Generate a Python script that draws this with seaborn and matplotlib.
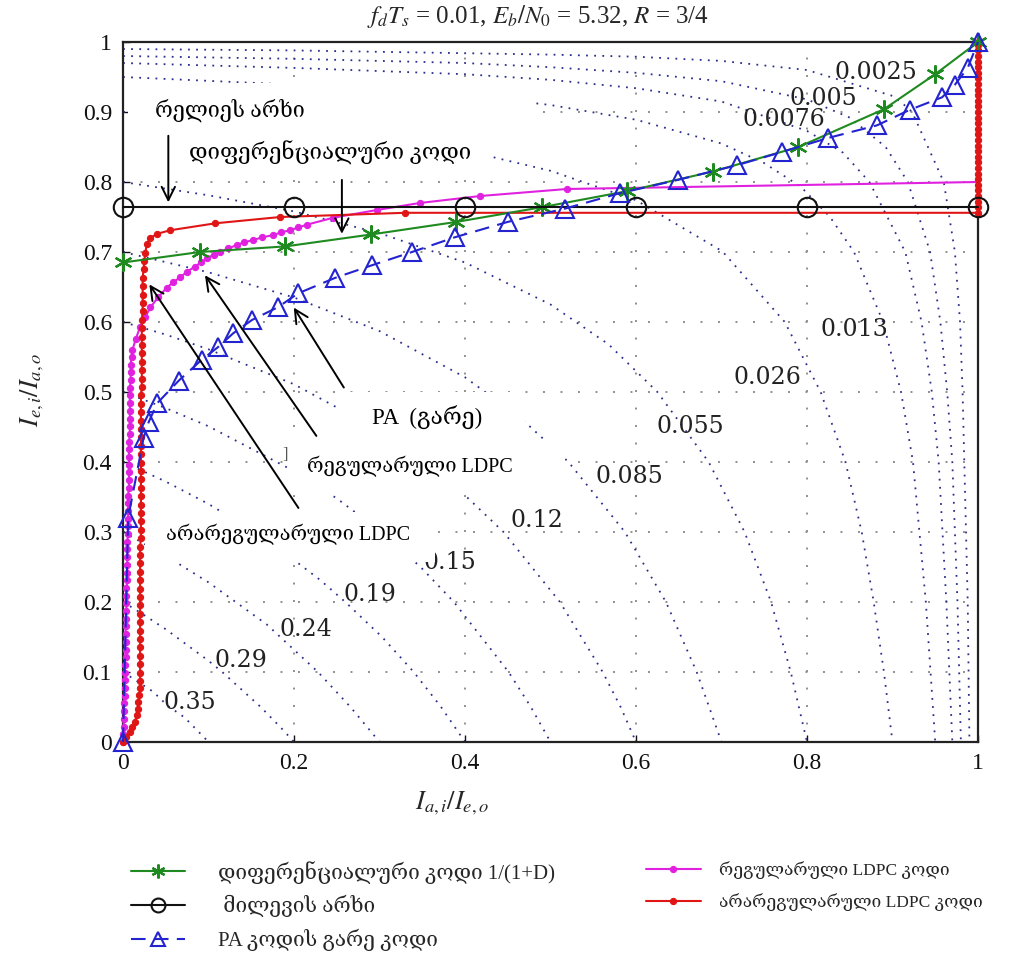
import numpy as np
import matplotlib
matplotlib.use("Agg")
import matplotlib.pyplot as plt
import seaborn as sns
from matplotlib.patches import Rectangle

# ---- data ----
# differential code 1/(1+D)
diff_x = [0.0, 0.09, 0.19, 0.29, 0.39, 0.49, 0.59, 0.69, 0.79, 0.89, 0.95, 1.0]
diff_y = [0.685, 0.70, 0.708, 0.725, 0.743, 0.764, 0.787, 0.815, 0.85, 0.904, 0.954, 1.0]

# fading (Rayleigh) channel
chan_x = [0.0, 0.2, 0.4, 0.6, 0.8, 1.0]
chan_y = [0.764, 0.764, 0.764, 0.764, 0.764, 0.764]

# PA outer code
pa_x = [0.0, 0.006, 0.024, 0.03, 0.04, 0.065, 0.092, 0.111, 0.129, 0.151, 0.181, 0.205,
        0.248, 0.291, 0.338, 0.388, 0.45, 0.517, 0.581, 0.649, 0.718, 0.771, 0.825,
        0.882, 0.92, 0.958, 0.973, 0.988, 1.0]
pa_y = [0.0, 0.32, 0.434, 0.457, 0.484, 0.516, 0.546, 0.564, 0.584, 0.603, 0.621, 0.641,
        0.663, 0.681, 0.70, 0.721, 0.743, 0.762, 0.784, 0.803, 0.824, 0.843, 0.863,
        0.881, 0.903, 0.921, 0.939, 0.963, 1.0]

# regular LDPC code
reg_x = [0.0, 0.0, 0.001, 0.001, 0.001, 0.001, 0.002, 0.002, 0.002, 0.002, 0.002,
         0.003, 0.003, 0.003, 0.003, 0.003, 0.004, 0.004, 0.004, 0.004, 0.004,
         0.005, 0.005, 0.005, 0.005, 0.005, 0.005, 0.006, 0.006, 0.006, 0.006,
         0.006, 0.006, 0.007, 0.007, 0.007, 0.007, 0.007, 0.007, 0.007, 0.008,
         0.008, 0.008, 0.008, 0.008, 0.008, 0.008, 0.009, 0.009, 0.009, 0.010,
         0.011, 0.015, 0.020, 0.026, 0.032, 0.041, 0.051, 0.059, 0.067, 0.075,
         0.084, 0.091, 0.098, 0.106, 0.113, 0.123, 0.133, 0.142, 0.152, 0.163,
         0.175, 0.185, 0.195, 0.205, 0.215, 0.246, 0.297, 0.347, 0.418, 0.519, 1.0]
reg_y = [0.0, 0.011, 0.022, 0.033, 0.044, 0.055, 0.066, 0.077, 0.088, 0.099, 0.11,
         0.121, 0.132, 0.143, 0.154, 0.165, 0.176, 0.187, 0.198, 0.209, 0.22,
         0.231, 0.242, 0.253, 0.264, 0.275, 0.286, 0.297, 0.308, 0.319, 0.33,
         0.341, 0.352, 0.363, 0.374, 0.385, 0.396, 0.407, 0.418, 0.429, 0.44,
         0.451, 0.462, 0.473, 0.484, 0.495, 0.506, 0.517, 0.528, 0.539, 0.55,
         0.56, 0.576, 0.593, 0.607, 0.621, 0.635, 0.649, 0.657, 0.664, 0.672,
         0.679, 0.685, 0.691, 0.696, 0.70, 0.705, 0.71, 0.714, 0.717, 0.721,
         0.724, 0.728, 0.731, 0.735, 0.739, 0.749, 0.76, 0.77, 0.78, 0.79, 0.80]

# irregular LDPC code
irr_x = [0.0, 0.004, 0.008, 0.011, 0.014, 0.016, 0.017, 0.018, 0.019, 0.02,
         0.02, 0.02, 0.02, 0.02, 0.02, 0.02, 0.02, 0.02, 0.02, 0.02, 0.02, 0.02,
         0.02, 0.02, 0.02, 0.02, 0.02, 0.021, 0.021, 0.021, 0.021, 0.021, 0.021,
         0.021, 0.021, 0.021, 0.021, 0.021, 0.021, 0.021, 0.021, 0.021, 0.021,
         0.021, 0.021, 0.022, 0.022, 0.022, 0.022, 0.022, 0.022, 0.022, 0.022,
         0.022, 0.023, 0.023, 0.023, 0.023, 0.023, 0.024, 0.025, 0.026,
         0.028, 0.032, 0.04, 0.055, 0.108, 0.184, 0.33, 1.0,
         1.0, 1.0, 1.0, 1.0, 1.0, 1.0, 1.0, 1.0, 1.0, 1.0, 1.0, 1.0, 1.0, 1.0, 1.0,
         1.0, 1.0, 1.0, 1.0, 1.0, 1.0, 1.0, 1.0, 1.0, 1.0, 1.0, 1.0, 1.0, 1.0, 1.0, 1.0]
irr_y = [0.0, 0.007, 0.014, 0.021, 0.029, 0.038, 0.047, 0.057, 0.067, 0.077,
         0.087, 0.099, 0.111, 0.123, 0.135, 0.147, 0.159, 0.171, 0.183, 0.195,
         0.207, 0.219, 0.231, 0.243, 0.255, 0.267, 0.279, 0.291, 0.303, 0.315,
         0.327, 0.339, 0.351, 0.363, 0.375, 0.387, 0.399, 0.411, 0.423, 0.435,
         0.447, 0.459, 0.471, 0.483, 0.495, 0.507, 0.519, 0.531, 0.543, 0.555,
         0.567, 0.579, 0.591, 0.603, 0.615, 0.627, 0.639, 0.651, 0.663, 0.675,
         0.687, 0.699, 0.712, 0.72, 0.726, 0.731, 0.741, 0.75, 0.756, 0.756,
         0.764, 0.772, 0.78, 0.788, 0.796, 0.804, 0.812, 0.82, 0.828, 0.836, 0.844,
         0.852, 0.86, 0.868, 0.876, 0.884, 0.892, 0.90, 0.908, 0.916, 0.924, 0.932,
         0.94, 0.948, 0.956, 0.964, 0.972, 0.98, 0.988, 0.996, 1.0]

# BER contours (dotted), one pair of lists per level
c035_x = [0, .02, .035, .052, .072, .084, .1]
c035_y = [.1, .084, .072, .052, .035, .02, 0]
c029_x = [0, .02, .05, .1, .108, .116, .161, .185, .2]
c029_y = [.2, .185, .161, .116, .108, .1, .05, .02, 0]
c024_x = [0, .05, .1, .168, .228, .266, .3]
c024_y = [.3, .266, .228, .168, .1, .05, 0]
c019_x = [0, .05, .1, .15, .2, .231, .26, .303, .34, .372, .4]
c019_y = [.4, .372, .34, .303, .26, .231, .2, .15, .1, .05, 0]
c015_x = [0, .05, .1, .2, .25, .301, .348, .387, .451, .477, .5]
c015_y = [.5, .477, .451, .387, .348, .301, .25, .2, .1, .05, 0]
c012_x = [0, .05, .1, .2, .3, .378, .445, .511, .561, .582, .6]
c012_y = [.6, .582, .561, .511, .445, .378, .3, .2, .1, .05, 0]
c0085_x = [0, .1, .2, .3, .4, .464, .521, .587, .635, .671, .7]
c0085_y = [.7, .671, .635, .587, .521, .464, .4, .3, .2, .1, 0]
c0055_x = [0, .1, .2, .3, .4, .5, .568, .625, .685, .727, .758, .781, .8]
c0055_y = [.8, .781, .758, .727, .685, .625, .568, .5, .4, .3, .2, .1, 0]
c0026_x = [0, .1, .2, .3, .4, .5, .6, .701, .774, .816, .845, .864, .878, .89, .9]
c0026_y = [.9, .89, .878, .864, .845, .816, .774, .701, .6, .5, .4, .3, .2, .1, 0]
c0013_x = [0, .2, .4, .5, .6, .7, .75, .793, .827, .855, .889, .91, .924, .939, .95]
c0013_y = [.95, .939, .924, .91, .889, .855, .827, .793, .75, .7, .6, .5, .4, .2, 0]
c00076_x = [0, .2, .4, .5, .6, .7, .8, .842, .873, .915, .934, .946, .954, .963, .97]
c00076_y = [.97, .963, .954, .946, .934, .915, .873, .842, .8, .7, .6, .5, .4, .2, 0]
c0005_x = [0, .2, .4, .5, .6, .7, .8, .85, .871, .892, .918, .944, .956, .964, .97, .976, .98]
c0005_y = [.98, .976, .97, .964, .956, .944, .918, .892, .871, .85, .8, .7, .6, .5, .4, .2, 0]
c00025_x = [0, .2, .4, .5, .6, .7, .8, .9, .912, .923, .96, .973, .979, .982, .984, .988, .99]
c00025_y = [.99, .988, .984, .982, .979, .973, .96, .923, .912, .9, .8, .7, .6, .5, .4, .2, 0]

contour_labels = ["0.35", "0.29", "0.24", "0.19", "0.15", "0.12", "0.085", "0.055",
                  "0.026", "0.013", "0.0076", "0.005", "0.0025"]
label_x = [0.078, 0.138, 0.214, 0.289, 0.382, 0.484, 0.592, 0.664, 0.754, 0.855, 0.773, 0.819, 0.88]
label_y = [0.056, 0.117, 0.16, 0.21, 0.256, 0.317, 0.379, 0.45, 0.52, 0.589, 0.889, 0.92, 0.957]

contours = [(c035_x, c035_y), (c029_x, c029_y), (c024_x, c024_y), (c019_x, c019_y),
            (c015_x, c015_y), (c012_x, c012_y), (c0085_x, c0085_y), (c0055_x, c0055_y),
            (c0026_x, c0026_y), (c0013_x, c0013_y), (c00076_x, c00076_y),
            (c0005_x, c0005_y), (c00025_x, c00025_y)]

x_ticks = [0, 0.2, 0.4, 0.6, 0.8, 1.0]
x_ticklabels = ["0", "0.2", "0.4", "0.6", "0.8", "1"]
y_ticks = [0, 0.1, 0.2, 0.3, 0.4, 0.5, 0.6, 0.7, 0.8, 0.9, 1.0]
y_ticklabels = ["0", "0.1", "0.2", "0.3", "0.4", "0.5", "0.6", "0.7", "0.8", "0.9", "1"]

sns.set_theme(style="white")
plt.rcParams["font.family"] = ["Liberation Serif", "DejaVu Serif", "DejaVu Sans"]
plt.rcParams["mathtext.fontset"] = "stix"

fig = plt.figure(figsize=(10.1, 9.57), dpi=100)
ax = fig.add_axes([0.1218, 0.2247, 0.8465, 0.7314])

# contours
for cx, cy in contours:
    ax.plot(cx, cy, color="#2b2f8a", lw=1.3, linestyle=(0, (1, 3.5)), zorder=1)
for t, lx, ly in zip(contour_labels, label_x, label_y):
    ax.text(lx, ly, t, fontsize=17, family="DejaVu Serif", ha="center", va="center",
            color="#222222", zorder=2)

# white boxes behind the pasted-in annotation texts
for (bx0, by0, bx1, by1) in [(0.006, 0.87, 0.482, 0.941), (0.078, 0.807, 0.432, 0.87),
                             (0.251, 0.429, 0.47, 0.50), (0.193, 0.353, 0.517, 0.429),
                             (0.026, 0.257, 0.365, 0.329)]:
    ax.add_patch(Rectangle((bx0, by0), bx1 - bx0, by1 - by0, facecolor="white",
                           edgecolor="none", zorder=2.5))

green, black, blue, mag, red = "#1f8a1f", "#111111", "#2323d0", "#e022e0", "#e01515"

sns.lineplot(x=diff_x, y=diff_y, ax=ax, sort=False, estimator=None, color=green, lw=1.5,
             marker=(6, 2, 0), markersize=13, mew=1.6, mec=green, clip_on=False, zorder=4,
             label="დიფერენციალური კოდი 1/(1+D)")
sns.lineplot(x=chan_x, y=chan_y, ax=ax, sort=False, estimator=None, color=black, lw=1.5,
             marker="o", markersize=14, mfc="none", mec=black, mew=1.5, clip_on=False,
             zorder=4, label=" მილევის არხი")
sns.lineplot(x=pa_x, y=pa_y, ax=ax, sort=False, estimator=None, color=blue, lw=1.5,
             linestyle=(0, (7, 4)), marker="^", markersize=13, mfc="none", mec=blue,
             mew=1.5, clip_on=False, zorder=4, label="PA კოდის გარე კოდი")
sns.lineplot(x=reg_x, y=reg_y, ax=ax, sort=False, estimator=None, color=mag, lw=1.5,
             marker="o", markersize=4.5, mec=mag, markevery=slice(0, -1), clip_on=False,
             zorder=3.5, label="რეგულარული LDPC კოდი")
sns.lineplot(x=irr_x, y=irr_y, ax=ax, sort=False, estimator=None, color=red, lw=1.5,
             marker="o", markersize=4.5, mec=red, clip_on=False, zorder=3.6,
             label="არარეგულარული LDPC კოდი")
handles, labels = ax.get_legend_handles_labels()
ax.get_legend().remove()

# annotation arrows and texts
arrows = [((0.053, 0.87), (0.053, 0.767)), ((0.256, 0.807), (0.256, 0.722)),
          ((0.26, 0.503), (0.198, 0.624)), ((0.228, 0.434), (0.094, 0.67)),
          ((0.207, 0.331), (0.029, 0.657))]
for tail, head in arrows:
    ax.annotate("", xy=head, xytext=tail, zorder=5,
                arrowprops=dict(arrowstyle="->", color="black", lw=1.4, mutation_scale=24))
notes = [("რელიეს არხი", 0.125, 0.903, 15.5), ("დიფერენციალური კოდი", 0.242, 0.841, 16),
         ("PA  (გარე)", 0.356, 0.463, 16.5), ("რეგულარული LDPC", 0.336, 0.393, 14.5),
         ("არარეგულარული LDPC", 0.193, 0.296, 14.5)]
for t, nx, ny, fs in notes:
    ax.text(nx, ny, t, fontsize=fs, ha="center", va="center", color="black", zorder=6)
ax.text(0.19, 0.41, "]", fontsize=12, ha="center", va="center", color="#555555", zorder=6)

ax.set_xlim(0, 1)
ax.set_ylim(0, 1)
ax.set_xticks(x_ticks)
ax.set_xticklabels(x_ticklabels)
ax.set_yticks(y_ticks)
ax.set_yticklabels(y_ticklabels)
ax.tick_params(direction="in", length=5, width=1, labelsize=17, colors="#111111",
               bottom=True, left=True, pad=8)
for s in ax.spines.values():
    s.set_color("#222222")
    s.set_linewidth(1.6)

# grid: x every 0.2, y every 0.1
for gx in x_ticks[1:-1]:
    ax.axvline(gx, color="#8f8f8f", lw=1.4, linestyle=(0, (1, 8)), zorder=0.5)
for gy in y_ticks[1:-1]:
    ax.axhline(gy, color="#8f8f8f", lw=1.4, linestyle=(0, (1, 8)), zorder=0.5)

ax.set_xlabel(r"$I_{a,i}/I_{e,o}$", fontsize=19)
ax.xaxis.set_label_coords(0.385, -0.068)
ax.set_ylabel(r"$I_{e,i}/I_{a,o}$", fontsize=19)
ax.yaxis.set_label_coords(-0.09, 0.503)
fig.text(538 / 1010, 1 - 17 / 957, r"$f_d T_s$ = 0.01, $E_b/N_0$ = 5.32, $R$ = 3/4",
         fontsize=18, ha="center", va="center")

leg1 = fig.legend(handles[:3], labels[:3], loc="upper left",
                  bbox_to_anchor=(112 / 1010, 1 - 842 / 957), frameon=False, fontsize=15,
                  handlelength=2.6, handletextpad=1.6, labelspacing=0.55, numpoints=1)
leg2 = fig.legend(handles[3:], labels[3:], loc="upper left",
                  bbox_to_anchor=(630 / 1010, 1 - 845 / 957), frameon=False, fontsize=12.5,
                  handlelength=3.2, handletextpad=1.0, labelspacing=0.85, numpoints=1)
# smaller marker glyphs in the legend keys, as in the reference
for h, ms in zip(leg1.legend_handles, [10, 10, 10]):
    h.set_markersize(ms)

fig.savefig("out.png", dpi=100, facecolor="white")
